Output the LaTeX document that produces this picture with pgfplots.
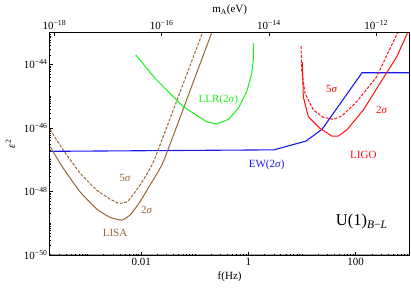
\documentclass[border=0pt]{standalone}
\usepackage{fontspec}
\setmainfont{Liberation Serif}
\usepackage{pgfplots}
\pgfplotsset{compat=1.18}
\definecolor{lbrown}{rgb}{0.6,0.4,0.2}
\definecolor{lgreen}{rgb}{0.1,0.95,0.1}
\definecolor{lblue}{rgb}{0.1,0.1,0.95}
\definecolor{lred}{rgb}{1,0.05,0.05}
\newcommand{\lf}{\fontsize{11}{13}\selectfont}
\begin{document}
\begin{tikzpicture}
\begin{axis}[
 at={(0,0)}, anchor=south west,
 scale only axis, width=359.3pt, height=222.3pt,
 xmode=log, ymode=log,
 xmin=2e-4, xmax=1000, ymin=1e-50, ymax=1e-43,
 xtick={0.01,1,100}, xticklabels={0.01,1,100},
 ytick={1e-50,1e-48,1e-46,1e-44},
 yticklabels={10\textsuperscript{−50},10\textsuperscript{−48},10\textsuperscript{−46},10\textsuperscript{−44}},
 xtick pos=left, ytick pos=left,
 minor xtick={2e-4,3e-4,4e-4,5e-4,6e-4,7e-4,8e-4,9e-4,1e-3,2e-3,3e-3,4e-3,5e-3,6e-3,7e-3,8e-3,9e-3,2e-2,3e-2,4e-2,5e-2,6e-2,7e-2,8e-2,9e-2,1e-1,2e-1,3e-1,4e-1,5e-1,6e-1,7e-1,8e-1,9e-1,2,3,4,5,6,7,8,9,10,20,30,40,50,60,70,80,90,200,300,400,500,600,700,800,900},
 minor ytick={2e-50,3e-50,4e-50,5e-50,6e-50,7e-50,8e-50,9e-50,1e-49,2e-49,3e-49,4e-49,5e-49,6e-49,7e-49,8e-49,9e-49,2e-48,3e-48,4e-48,5e-48,6e-48,7e-48,8e-48,9e-48,1e-47,2e-47,3e-47,4e-47,5e-47,6e-47,7e-47,8e-47,9e-47,2e-46,3e-46,4e-46,5e-46,6e-46,7e-46,8e-46,9e-46,1e-45,2e-45,3e-45,4e-45,5e-45,6e-45,7e-45,8e-45,9e-45,2e-44,3e-44,4e-44,5e-44,6e-44,7e-44,8e-44,9e-44},
 major tick length=3pt, minor tick length=1.5pt,
 tick style={black, line width=0.5pt},
 axis line style={line width=1pt},
 ticklabel style={font=\lf},
 yticklabel style={xshift=1pt},
 xlabel={f(Hz)}, ylabel={\textit{ε}\textsuperscript{2}},
 label style={font=\lf},
 xlabel style={at={(axis description cs:0.5,-0.099)}, anchor=center},
 ylabel style={at={(axis description cs:-0.11,0.5)}, anchor=center},
]
\addplot[lblue, line width=1.1pt] coordinates {(2e-4,1.84e-47)(3.0,2.05e-47)(11.86,3.88e-47)(23.6,9.08e-47)(131.5,5.5e-45)(1000,5.5e-45)};
\addplot[lbrown, line width=1pt, smooth, tension=0.3] coordinates {(2e-4,2.61e-47)(3.54e-4,5.37e-48)(7.25e-4,9.84e-49)(1.486e-3,2.81e-49)(2.63e-3,1.54e-49)(4.35e-3,1.26e-49)(6.21e-3,1.82e-49)(9.53e-3,4.76e-49)(1.465e-2,1.6e-48)(2.59e-2,8.67e-48)(8.16e-2,1.49e-45)(0.207,1e-43)};
\addplot[lbrown, line width=1pt, dash pattern=on 3pt off 1.5pt, smooth, tension=0.3] coordinates {(2e-4,8.93e-47)(3.54e-4,2.02e-47)(7.25e-4,3.82e-48)(1.486e-3,1.11e-48)(2.63e-3,5.8e-49)(3.87e-3,4.25e-49)(5.69e-3,5.01e-49)(9.53e-3,1.6e-48)(1.7e-2,8.67e-48)(5.43e-2,1.49e-45)(0.1395,1e-43)};
\addplot[lgreen, line width=1pt] coordinates {(7.93e-3,1.98e-44)(9.53e-3,1.38e-44)(1.82e-2,3.66e-45)(3.0e-2,1.57e-45)(6.12e-2,4.67e-46)(0.167,1.57e-46)(0.257,1.33e-46)(0.422,1.87e-46)(0.649,4.16e-46)(0.930,1.39e-45)(1.153,5.26e-45)(1.235,1.38e-44)(1.235,4.63e-44)};
\addplot[lred, line width=1pt, dash pattern=on 3pt off 1.5pt] coordinates {(9.57,3.81e-44)(9.87,6.68e-45)(11.37,1.23e-45)(16.24,3.68e-46)(24.95,2.17e-46)(38.31,1.87e-46)(54.95,2.38e-46)(104.6,6.71e-46)(246.9,4.11e-45)(603.3,1e-43)};
\addplot[lred, line width=1pt] coordinates {(10.13,1.19e-44)(10.57,9.64e-46)(13.1,2.26e-46)(21.65,9.75e-47)(35.78,5.58e-47)(47.5,5.58e-47)(68.1,8.63e-47)(138.9,3.68e-46)(284.6,2.55e-45)(583,1.75e-44)(931,1e-43)};
\node[lbrown, font=\lf] at (rel axis cs:0.2087,0.345) {5\textit{σ}};
\node[lbrown, font=\lf] at (rel axis cs:0.269,0.2024) {2\textit{σ}};
\node[lbrown, font=\lf] at (rel axis cs:0.181,0.0976) {LISA};
\node[lgreen, font=\lf] at (rel axis cs:0.4684,0.697) {LLR(2\textit{σ})};
\node[lblue, font=\lf] at (rel axis cs:0.603,0.405) {EW(2\textit{σ})};
\node[lred, font=\lf] at (rel axis cs:0.784,0.745) {5\textit{σ}};
\node[lred, font=\lf] at (rel axis cs:0.923,0.652) {2\textit{σ}};
\node[lred, font=\lf] at (rel axis cs:0.872,0.45) {LIGO};
\node[black, font=\fontsize{16.5}{19}\selectfont] at (rel axis cs:0.8675,0.15) {U(1)\textsubscript{\textit{B}−\textit{L}}};
\end{axis}
\begin{axis}[
 at={(0,0)}, anchor=south west,
 scale only axis, width=359.3pt, height=222.3pt,
 xmode=log, xmin=8.271e-19, xmax=4.136e-12, ymin=0, ymax=1,
 hide y axis,
 xtick pos=right, xticklabel pos=right,
 xtick={1e-18,1e-16,1e-14,1e-12},
 xticklabels={10\textsuperscript{−18},10\textsuperscript{−16},10\textsuperscript{−14},10\textsuperscript{−12}},
 minor xtick={},
 major tick length=3pt,
 tick style={black, line width=0.5pt},
 axis line style={line width=1pt},
 ticklabel style={font=\lf},
 xlabel={m\textsubscript{A}(eV)},
 label style={font=\lf},
 xlabel style={at={(axis description cs:0.5,1.102)}, anchor=center},
]
\end{axis}
\pgfresetboundingbox
\useasboundingbox (-50pt,-36pt) rectangle (361pt,255pt);
\end{tikzpicture}
\end{document}
